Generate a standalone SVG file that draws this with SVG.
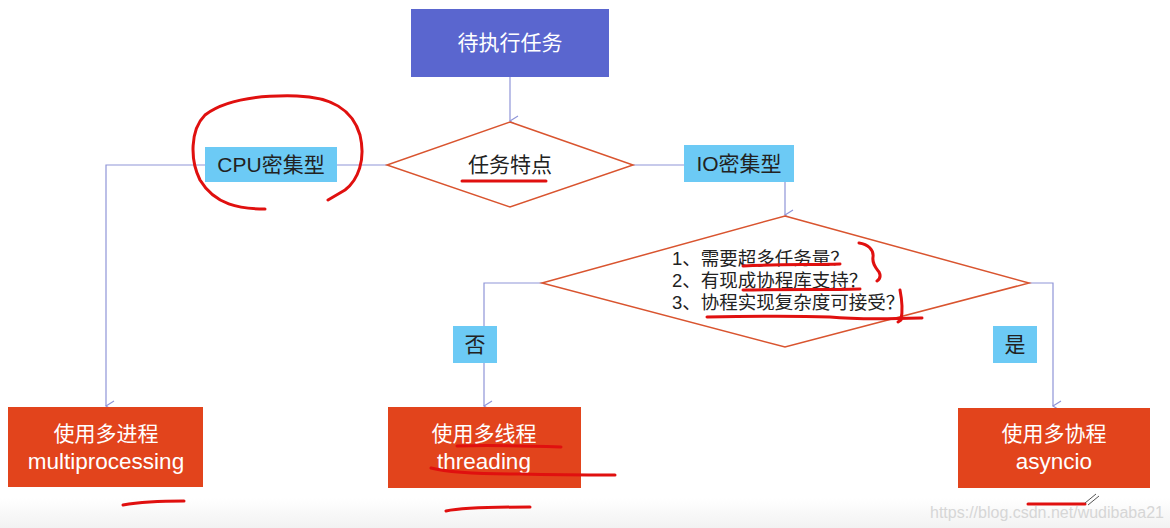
<svg xmlns="http://www.w3.org/2000/svg" width="1170" height="528" viewBox="0 0 1170 528">
<defs>
<style>
.t{font-family:"Liberation Sans","Noto Sans CJK SC",sans-serif;}
.wt{fill:#ffffff;font-size:21px;text-anchor:middle;}
.bk{fill:#222222;font-size:21px;text-anchor:middle;}
.dt{fill:#222222;font-size:18.5px;}
.lbl{fill:#6ccaf5;}
.res{fill:#e2441c;}
.dia{fill:#ffffff;stroke:#d9542f;stroke-width:1.5;}
.con{fill:none;stroke:#8f95d8;stroke-width:1.2;}
.ann{fill:none;stroke:#e0100f;stroke-width:3;stroke-linecap:round;stroke-linejoin:round;}
</style>
<marker id="arr" markerWidth="12" markerHeight="12" refX="6" refY="10" orient="auto" markerUnits="userSpaceOnUse" viewBox="0 0 12 12">
<path d="M1,2 L6,10 L11,2" fill="none" stroke="#8f95d8" stroke-width="1.2"/>
</marker>
<linearGradient id="bg" x1="0" y1="0" x2="0" y2="1">
<stop offset="0" stop-color="#ffffff"/>
<stop offset="1" stop-color="#f2f2f2"/>
</linearGradient>
</defs>
<rect x="0" y="0" width="1170" height="528" fill="#ffffff"/>
<rect x="0" y="498" width="1170" height="30" fill="url(#bg)"/>

<g id="connectors">
<path class="con" d="M510,77 V121" marker-end="url(#arr)"/>
<path class="con" d="M387,165 H106 V406" marker-end="url(#arr)"/>
<path class="con" d="M633,165 H785 V215" marker-end="url(#arr)"/>
<path class="con" d="M542,283 H484 V406" marker-end="url(#arr)"/>
<path class="con" d="M1029,283 H1053 V406" marker-end="url(#arr)"/>
</g>

<g id="start">
<rect x="411" y="9" width="198" height="68" fill="#5a66cf"/>
<text class="t wt" x="510" y="50">待执行任务</text>
</g>

<g id="decision1">
<polygon class="dia" points="510,122 633,165 510,207 387,165"/>
<text class="t bk" x="510" y="172">任务特点</text>
</g>

<g id="label-cpu">
<rect class="lbl" x="205" y="147" width="132" height="35"/>
<text class="t bk" x="271" y="172">CPU密集型</text>
</g>

<g id="label-io">
<rect class="lbl" x="684" y="145" width="110" height="37"/>
<text class="t bk" x="739" y="171">IO密集型</text>
</g>

<g id="decision2">
<polygon class="dia" points="785,216 1029,283 785,347 542,283"/>
<text class="t dt" x="672" y="265">1、需要超多任务量？</text>
<text class="t dt" x="672" y="287">2、有现成协程库支持？</text>
<text class="t dt" x="672" y="309">3、协程实现复杂度可接受？</text>
</g>

<g id="label-no">
<rect class="lbl" x="453" y="326" width="44" height="37"/>
<text class="t bk" x="475" y="352">否</text>
</g>

<g id="label-yes">
<rect class="lbl" x="993" y="326" width="44" height="37"/>
<text class="t bk" x="1015" y="352">是</text>
</g>

<g id="multiprocessing">
<rect class="res" x="8" y="407" width="195" height="80"/>
<text class="t wt" x="106" y="441">使用多进程</text>
<text class="t wt" x="106" y="469" style="font-size:22.5px">multiprocessing</text>
</g>

<g id="threading">
<rect class="res" x="388" y="407" width="193" height="81"/>
<text class="t wt" x="484" y="441">使用多线程</text>
<text class="t wt" x="484" y="469" style="font-size:22.5px">threading</text>
</g>

<g id="asyncio">
<rect class="res" x="958" y="408" width="192" height="80"/>
<text class="t wt" x="1054" y="441">使用多协程</text>
<text class="t wt" x="1054" y="469" style="font-size:22.5px">asyncio</text>
</g>

<g id="annotations">
<path class="ann" d="M265,209 C240,209 215,205 200,180 C190,160 190,130 205,115 C225,100 260,95 297,96 C330,97 352,108 360,135 C366,160 358,180 345,190 L328,200"/>
<path class="ann" d="M462,181 H546"/>
<path class="ann" d="M743,266 C780,264 810,265 840,264"/>
<path class="ann" d="M859,243 C868,244 874,250 873,257 C872,264 876,268 879,272 C881,276 880,279 877,281"/>
<path class="ann" d="M743,290 C790,289 830,290 860,289"/>
<path class="ann" d="M900,290 C902,300 903,310 901,320 L898,322"/>
<path class="ann" d="M707,317 C760,316 800,316 830,317 C860,320 890,319 922,318"/>
<path class="ann" d="M457,446 C490,445 530,446 561,447"/>
<path class="ann" d="M431,468 C450,473 480,474 520,474 C560,475 590,475 615,475"/>
<path class="ann" d="M123,505 C140,502 165,501 184,501"/>
<path class="ann" d="M446,511 C460,508 480,507 530,507"/>
<path class="ann" d="M1028,504 H1085"/>
<path d="M1085,503 L1096,494 M1088,505 L1099,496" fill="none" stroke="#555555" stroke-width="1"/>
</g>

<text class="t" x="930" y="518" style="font-size:16px;fill:#d6d6d6">https://blog.csdn.net/wudibaba21</text>
</svg>
